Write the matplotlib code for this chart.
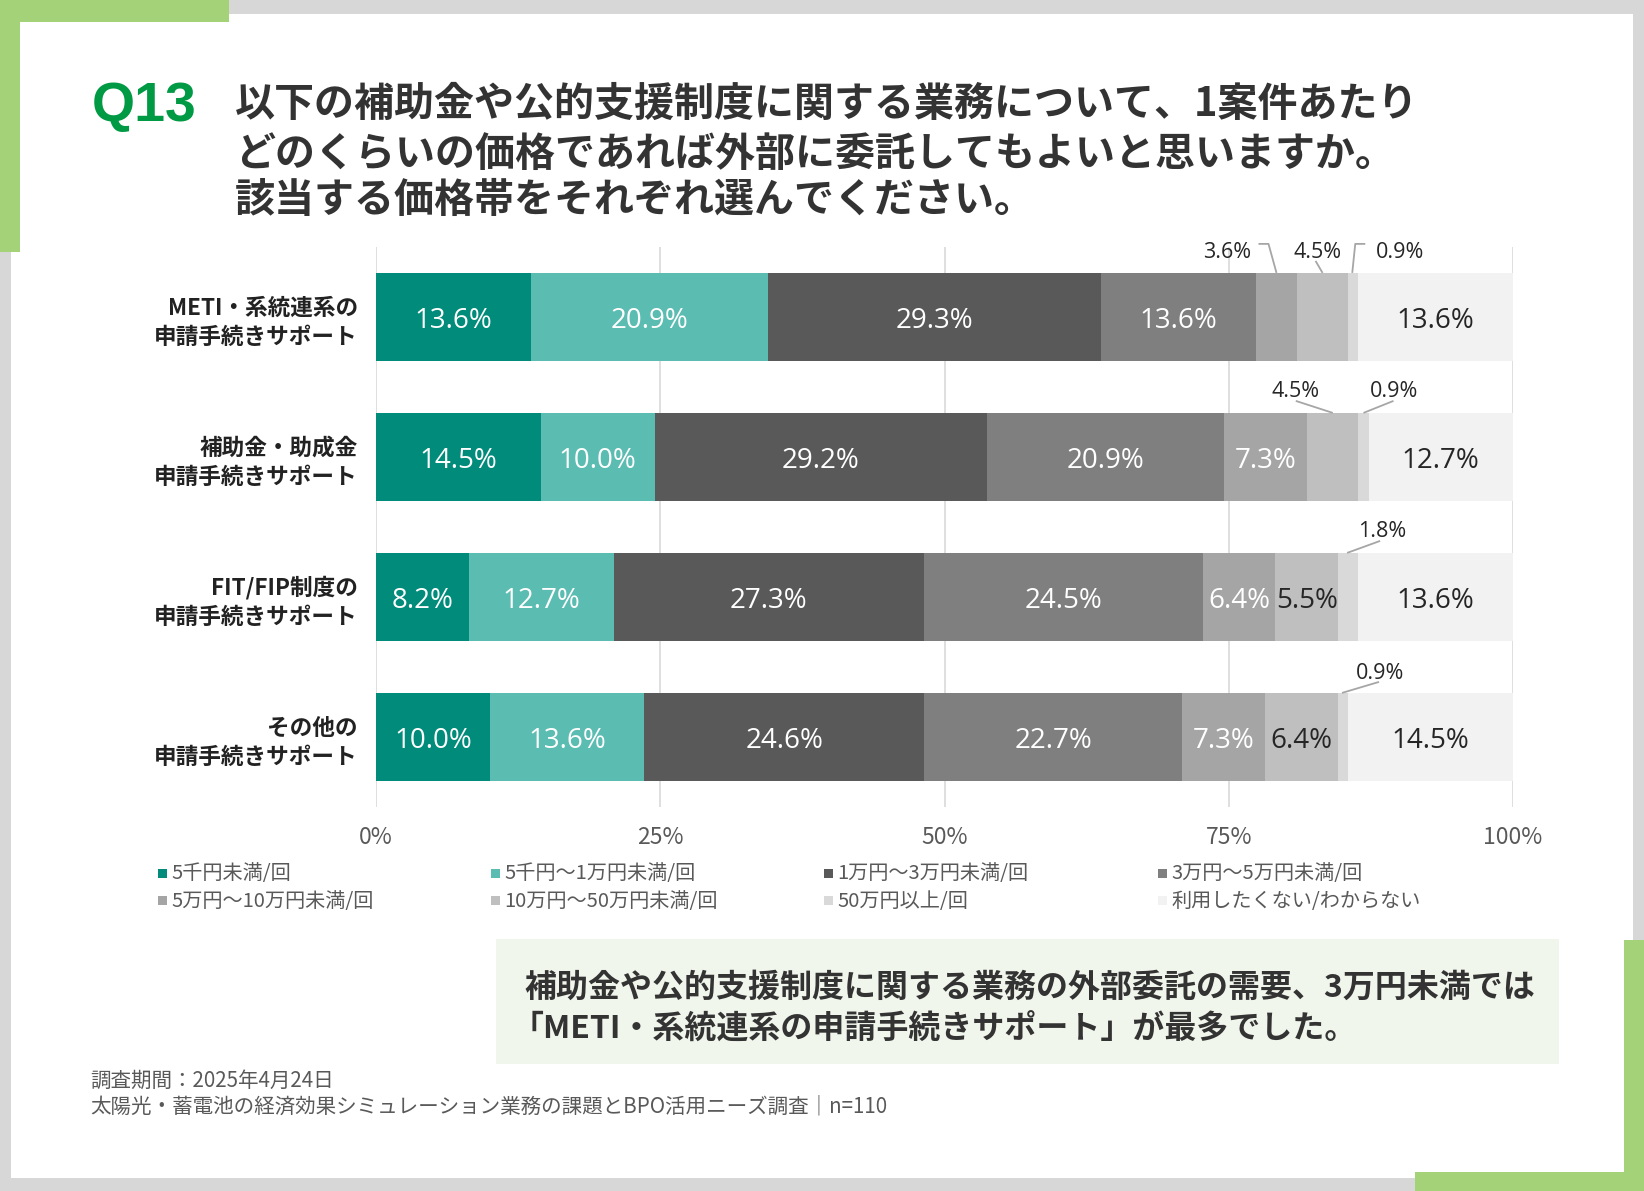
import numpy as np
import matplotlib
matplotlib.use("Agg")
import matplotlib.pyplot as plt
from matplotlib.patches import Rectangle

plt.rcParams['font.family'] = ['Noto Sans CJK JP', 'DejaVu Sans']

# data
categories = [
    "METI・系統連系の\n申請手続きサポート",
    "補助金・助成金\n申請手続きサポート",
    "FIT/FIP制度の\n申請手続きサポート",
    "その他の\n申請手続きサポート",
]
series_names = [
    "5千円未満/回", "5千円～1万円未満/回", "1万円～3万円未満/回", "3万円～5万円未満/回",
    "5万円～10万円未満/回", "10万円～50万円未満/回", "50万円以上/回", "利用したくない/わからない",
]
# rows = categories, columns = series (%)
meti = [13.6, 20.9, 29.3, 13.6, 3.6, 4.5, 0.9, 13.6]
hojo = [14.5, 10.0, 29.2, 20.9, 7.3, 4.5, 0.9, 12.7]
fit = [8.2, 12.7, 27.3, 24.5, 6.4, 5.5, 1.8, 13.6]
other = [10.0, 13.6, 24.6, 22.7, 7.3, 6.4, 0.9, 14.5]
values = np.array([meti, hojo, fit, other])

xticks = [0, 25, 50, 75, 100]
xtick_labels = ["0%", "25%", "50%", "75%", "100%"]

colors = ["#008B7A", "#5BBCB2", "#595959", "#7F7F7F",
          "#A5A5A5", "#BFBFBF", "#D9D9D9", "#F2F2F2"]
label_dark = [False, False, False, False, False, True, True, True]

# callouts for the thin segments: (row, series, text offset px, leader path px)
callouts = [
    (0, 4, (-49, 23), [(-18, 29), (-8, 29), (0, 0)]),
    (0, 5, (-5, 23), [(-7, 12), (0, 0)]),
    (0, 6, (47, 23), [(12, 29), (2, 29), (-1, 0)]),
    (1, 5, (-37, 24), [(-37, 12), (0, 0)]),
    (1, 6, (31, 24), [(30, 12), (0, 0)]),
    (2, 6, (34, 24), [(32, 12), (-1, 0)]),
    (3, 6, (37, 22), [(36, 11), (-1, 0)]),
]

W, H = 1644, 1191
fig = plt.figure(figsize=(W / 100, H / 100), dpi=100)
fig.patch.set_facecolor("#D7D7D7")


def fx(px):
    return px / W


def fy(py):
    return 1 - py / H


def frect(x0, y0, x1, y1, color, z=0):
    fig.add_artist(Rectangle((fx(x0), fy(y1)), (x1 - x0) / W, (y1 - y0) / H,
                             transform=fig.transFigure, facecolor=color,
                             edgecolor="none", zorder=z))


# frame
frect(11, 14, 1633, 1178, "white")
green = "#A4D279"
frect(0, 0, 229, 22, green, 1)
frect(0, 0, 20, 252, green, 1)
frect(1624, 940, 1644, 1191, green, 1)
frect(1415, 1172, 1644, 1191, green, 1)

# title
fig.text(fx(92), fy(121), "Q13", family="Liberation Sans", weight="bold",
         fontsize=40, color="#009944", va="baseline", ha="left")
title_lines = [
    "以下の補助金や公的支援制度に関する業務について、1案件あたり",
    "どのくらいの価格であれば外部に委託してもよいと思いますか。",
    "該当する価格帯をそれぞれ選んでください。",
]
for line, py in zip(title_lines, [104, 154, 200]):
    fig.text(fx(235), fy(py), line, fontsize=28.8, weight="bold",
             color="#333333", va="center", ha="left")

# chart
ax = fig.add_axes([fx(376), fy(807), (1513 - 376) / W, (807 - 247) / H])
ax.set_facecolor("none")
y = np.arange(len(categories))
bar_h = 0.63
lefts = np.zeros(len(categories))
for j in range(values.shape[1]):
    ax.barh(y, values[:, j], left=lefts, height=bar_h, color=colors[j],
            label=series_names[j], zorder=2)
    for i in range(len(categories)):
        v = values[i, j]
        if v >= 5:
            ax.text(lefts[i] + v / 2, y[i], f"{v:.1f}%", ha="center",
                    va="center_baseline", fontsize=20,
                    family=["Open Sans", "DejaVu Sans"],
                    color="#262626" if label_dark[j] else "white", zorder=3)
    lefts += values[:, j]

ax.set_xlim(0, 100)
ax.set_ylim(len(categories) - 0.5, -0.5)
ax.set_xticks(xticks)
ax.set_xticklabels(xtick_labels, fontsize=16.5, color="#595959")
ax.set_yticks(y)
ax.set_yticklabels(categories, fontsize=16.3, weight="bold", color="#222222",
                   linespacing=1.35)
for t in ax.get_yticklabels():
    t.set_multialignment("right")
ax.tick_params(axis="both", length=0)
ax.tick_params(axis="x", pad=14)
ax.tick_params(axis="y", pad=13)
for s in ax.spines.values():
    s.set_visible(False)
ax.xaxis.grid(True, color="#D9D9D9", lw=1.2, zorder=0)
ax.set_axisbelow(True)

# callouts
inv = ax.transData.inverted()
cum = np.cumsum(values, axis=1) - values
for row, j, (tx, ty), path in callouts:
    xc = cum[row, j] + values[row, j] / 2
    base = ax.transData.transform((xc, y[row] - bar_h / 2))
    pts = np.array([inv.transform((base[0] + dx, base[1] + dy)) for dx, dy in path])
    ax.plot(pts[:, 0], pts[:, 1], color="#A6A6A6", lw=1.3, zorder=3,
            solid_capstyle="butt", clip_on=False)
    tpos = inv.transform((base[0] + tx, base[1] + ty))
    ax.text(tpos[0], tpos[1], f"{values[row, j]:.1f}%", ha="center",
            va="center_baseline", fontsize=15.5,
            family=["Open Sans", "DejaVu Sans"], color="#262626", clip_on=False)

# legend (manual grid, 4 columns x 2 rows)
leg_cols = [162, 495, 828, 1162]
leg_rows = [874, 901]
for k, name in enumerate(series_names):
    cx = leg_cols[k % 4]
    cy = leg_rows[k // 4]
    frect(cx - 4.5, cy - 5, cx + 4.5, cy + 4, colors[k], 2)
    fig.text(fx(cx + 9), fy(cy), name, fontsize=14.5, color="#595959",
             va="center", ha="left")

# summary box
frect(496, 939, 1559, 1064, "#F1F6EC", 1)
fig.text(fx(524), fy(988), "補助金や公的支援制度に関する業務の外部委託の需要、3万円未満では",
         fontsize=23, weight="bold", color="#333333", va="center", ha="left", zorder=3)
fig.text(fx(512), fy(1030), "「METI・系統連系の申請手続きサポート」が最多でした。",
         fontsize=23, weight="bold", color="#333333", va="center", ha="left", zorder=3)

# footer
fig.text(fx(90), fy(1081), "調査期間：2025年4月24日", fontsize=14.8, color="#595959",
         va="center", ha="left")
fig.text(fx(90), fy(1106), "太陽光・蓄電池の経済効果シミュレーション業務の課題とBPO活用ニーズ調査｜n=110",
         fontsize=14.8, color="#595959", va="center", ha="left")

fig.savefig("out.png", dpi=100, facecolor=fig.get_facecolor())
